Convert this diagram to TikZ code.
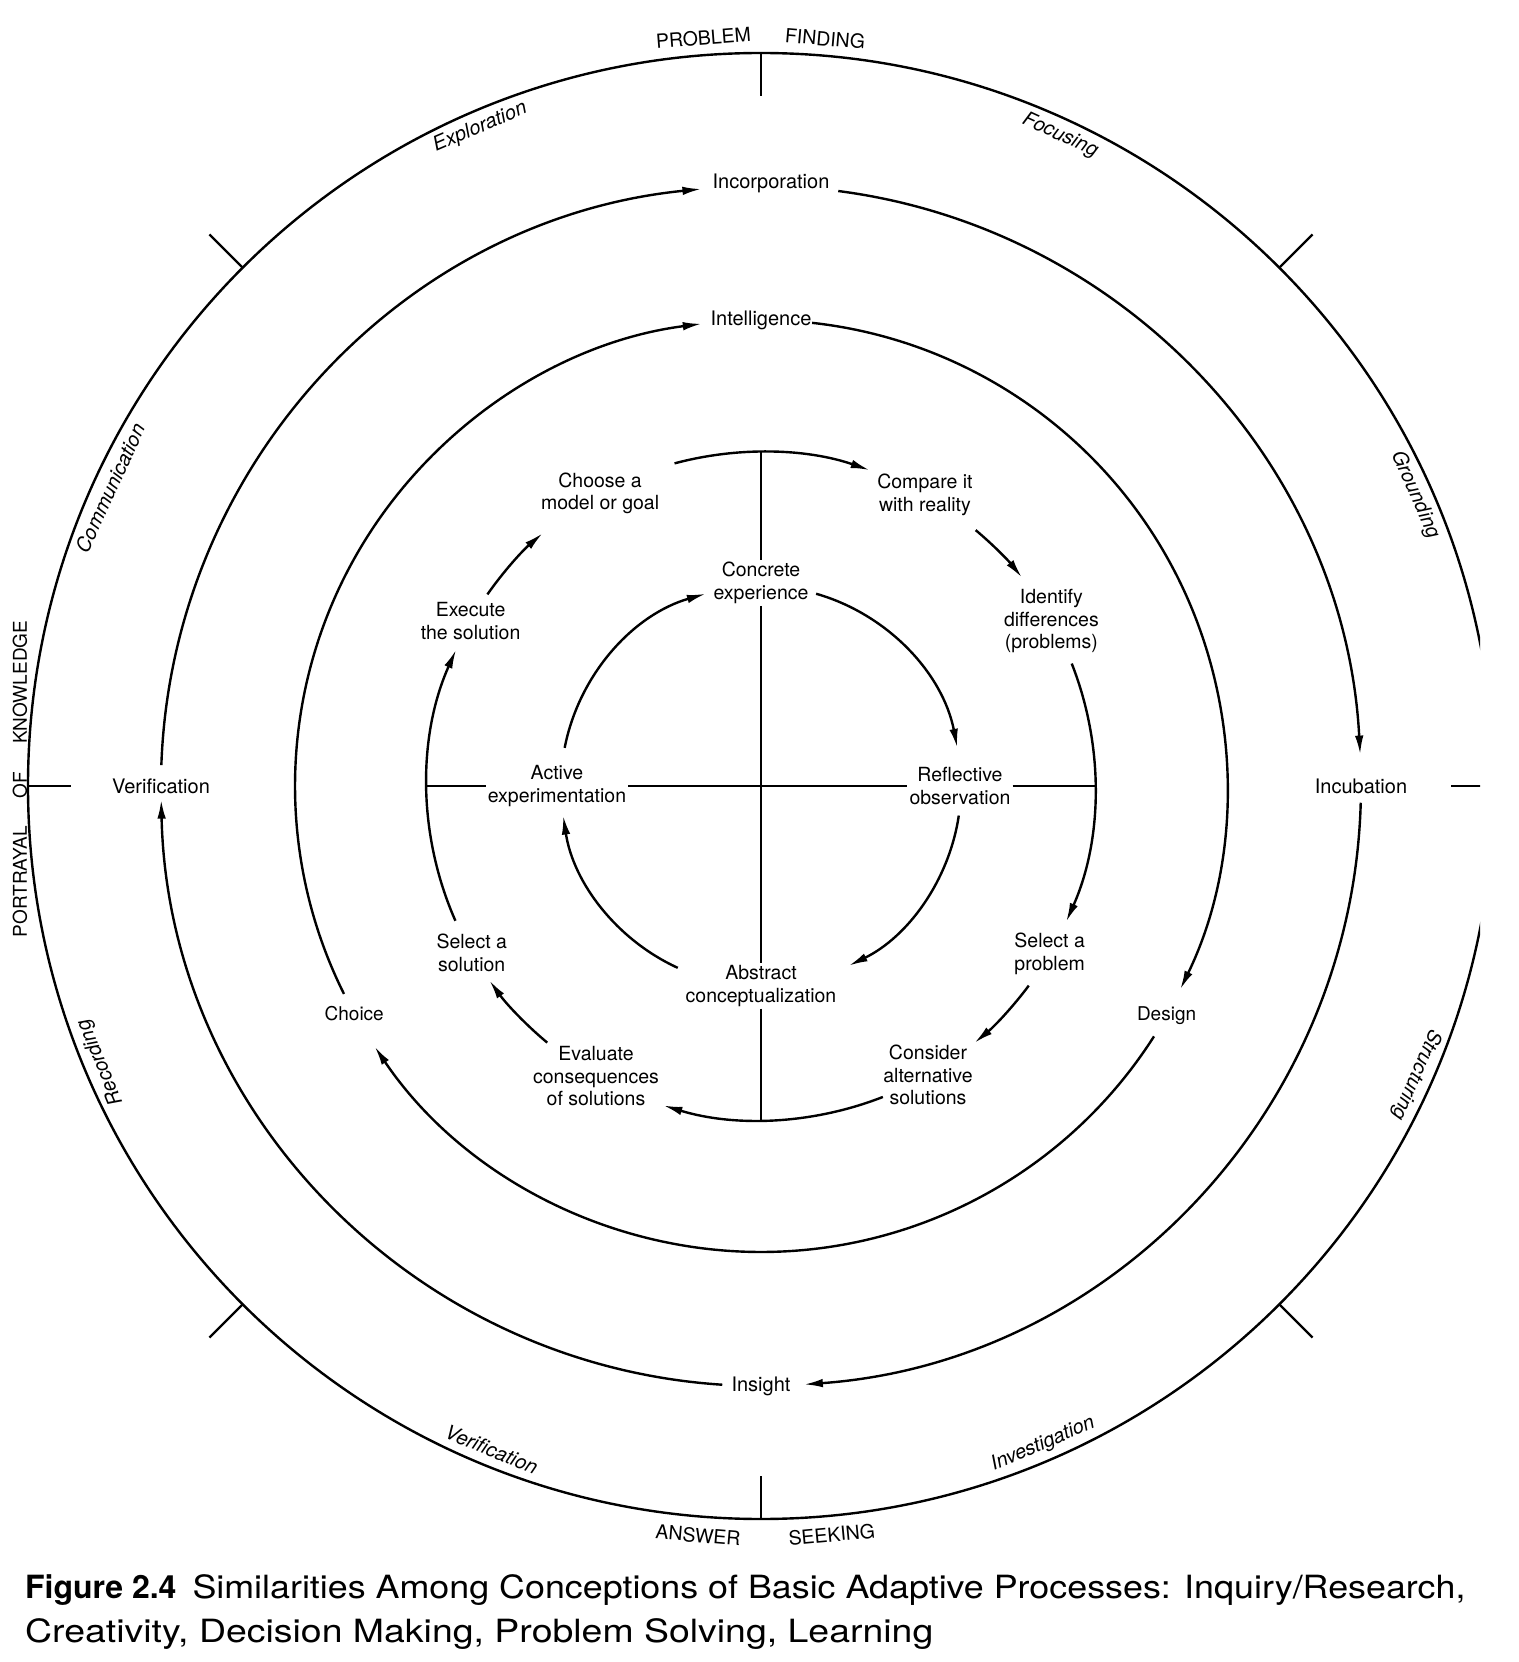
\documentclass[tikz,border=0pt]{standalone}
\usepackage{fontspec}
\setmainfont{TeX Gyre Heros}
\newfontfamily\capfonta[FakeStretch=1.12]{TeX Gyre Heros}
\newfontfamily\capfontb[FakeStretch=1.17]{TeX Gyre Heros}
\usetikzlibrary{arrows.meta}
\begin{document}
\begin{tikzpicture}[x=1pt,y=1pt,
  ring/.style={line width=2.4pt},
  arr/.style={ring,-{Latex[length=19pt,width=8.5pt]}},
  lab/.style={font=\fontsize{19.5}{22.5}\selectfont, align=center, inner sep=2pt},
  rlab/.style={font=\fontsize{20}{24}\selectfont, inner sep=1pt},
  olab/.style={font=\fontsize{20}{24}\selectfont\itshape, inner sep=1pt},
  capslab/.style={font=\fontsize{19.5}{24}\selectfont, inner sep=1pt},
  captext/.style={font=\fontsize{32}{40}\selectfont, anchor=base west, inner sep=0pt},
]
\useasboundingbox (-761,-876) rectangle (757,786);

% ---------- outer ring ----------
\begin{scope}
  \clip (-761,-876) rectangle (719,786);
  \draw[ring] (0,0) circle[radius=733pt];
  \foreach \a in {0,90,180,270} \draw[ring] (\a:733pt) -- (\a:690pt);
\end{scope}
\foreach \a in {45,135,225,315} \draw[ring] (\a:733pt) -- (\a:780pt);

\node[capslab, rotate=4.4]  (prob) at (94.4:750pt) {PROBLEM};
\node[capslab, rotate=-4.9] (find) at (85.1:750pt) {FINDING};
\node[capslab, rotate=-4.8] (answ) at (-94.8:752pt) {ANSWER};
\node[capslab, rotate=5.4]  (seek) at (-84.6:752pt) {SEEKING};
\node[capslab, font=\fontsize{19}{24}\selectfont, rotate=90] (portr) at (-741,7)
  {PORTRAYAL\hspace{28pt}OF\hspace{28pt}KNOWLEDGE};

\node[olab, rotate=23.1]   (explo)  at (113.1:716pt) {Exploration};
\node[olab, rotate=-24.7]  (focus)  at (65.3:716pt)  {Focusing};
\node[olab, rotate=65.4]   (comm)   at (155.4:716pt) {Communication};
\node[olab, rotate=-66]    (ground) at (24:716pt)    {Grounding};
\node[olab, rotate=112.7]  (record) at (202.7:716pt) {Recording};
\node[olab, rotate=-113.8] (struct) at (-23.8:716pt) {Structuring};
\node[olab, rotate=-22.1]  (verifo) at (-112.1:716pt){Verification};
\node[olab, rotate=23.2]   (invest) at (-66.8:716pt) {Investigation};

% ---------- ring 2 ----------
\node[rlab] (incorp)  at (10,603)  {Incorporation};
\node[rlab] (incub)   at (0:600pt)   {Incubation};
\node[rlab] (insight) at (270:600pt) {Insight};
\node[rlab] (verif)   at (180:600pt) {Verification};
\draw[arr] (178:600pt)   arc[start angle=178,   end angle=95.7,  radius=600pt];
\draw[arr] (82.6:600pt)  arc[start angle=82.6,  end angle=3.0,   radius=600pt];
\draw[arr] (-1.6:600pt)  arc[start angle=-1.6,  end angle=-85.9, radius=600pt];
\draw[arr] (266.3:600pt) arc[start angle=266.3, end angle=181.3, radius=600pt];

% ---------- ring 3 ----------
\node[rlab] (intell) at (90:466pt)    {Intelligence};
\node[rlab, font=\fontsize{19}{24}\selectfont] (design) at (-29.5:466pt) {Design};
\node[rlab, font=\fontsize{19}{24}\selectfont] (choice) at (209.2:466pt) {Choice};
\draw[arr] (206.5:466pt) arc[start angle=206.5, end angle=97.3,  radius=466pt];
\draw[arr] (83.7:466pt)  arc[start angle=83.7,  end angle=-25.9, radius=466pt];
\draw[arr] (-32.5:466pt) arc[start angle=-32.5, end angle=-146,  radius=466pt];

% ---------- ring 4 ----------
\node[lab] (choose)   at (118.8:334pt) {Choose a\\model or goal};
\node[lab] (compare)  at (60.6:334pt)  {Compare it\\with reality};
\node[lab] (identify) at (29.6:334pt)  {Identify\\differences\\(problems)};
\node[lab] (selprob)  at (-30.2:334pt) {Select a\\problem};
\node[lab] (consider) at (-60:334pt)   {Consider\\alternative\\solutions};
\node[lab] (evaluate) at (-119.6:334pt){Evaluate\\consequences\\of solutions};
\node[lab] (selsol)   at (210:334pt)   {Select a\\solution};
\node[lab] (execute)  at (150.4:334pt) {Execute\\the solution};
\draw[arr] (105:334pt)    arc[start angle=105,    end angle=71,     radius=334pt];
\draw[arr] (50:334pt)     arc[start angle=50,     end angle=38.6,   radius=334pt];
\draw[arr] (21.5:334pt)   arc[start angle=21.5,   end angle=-24,    radius=334pt];
\draw[arr] (-36.7:334pt)  arc[start angle=-36.7,  end angle=-50.3,  radius=334pt];
\draw[arr] (-68.6:334pt)  arc[start angle=-68.6,  end angle=-107,   radius=334pt];
\draw[arr] (230.2:334pt)  arc[start angle=230.2,  end angle=215.6,  radius=334pt];
\draw[arr] (203.8:334pt)  arc[start angle=203.8,  end angle=155.9,  radius=334pt];
\draw[arr] (145:334pt)    arc[start angle=145,    end angle=130.8,  radius=334pt];

% ---------- inner ring ----------
\node[lab] (concrete)   at (0,203)  {Concrete\\experience};
\node[lab] (reflective) at (199,0)  {Reflective\\observation};
\node[lab] (abstract)   at (0,-200) {Abstract\\conceptualization};
\node[lab] (active)     at (-204,0) {Active\\experimentation};
\draw[arr] (74:200pt)    arc[start angle=74,    end angle=11,    radius=200pt];
\draw[arr] (-8.5:200pt)  arc[start angle=-8.5,  end angle=-64,   radius=200pt];
\draw[arr] (245.4:200pt) arc[start angle=245.4, end angle=188.5, radius=200pt];
\draw[arr] (169:200pt)   arc[start angle=169,   end angle=106,   radius=200pt];

% ---------- cross ----------
\coordinate (r4t) at (90:334pt);
\coordinate (r4b) at (270:334pt);
\coordinate (r4l) at (180:334pt);
\coordinate (r4r) at (0:334pt);
\draw[ring] (r4t) -- (concrete.north);
\draw[ring] (concrete.south) -- (abstract.north);
\draw[ring] (abstract.south) -- (r4b);
\draw[ring] (r4l) -- (active.west);
\draw[ring] (active.east) -- (reflective.west);
\draw[ring] (reflective.east) -- (r4r);

% ---------- caption ----------
\node[captext] (cap1) at (-736,-812) {\bfseries Figure 2.4\hspace{16pt}\capfonta\mdseries Similarities Among Conceptions of Basic Adaptive Processes: Inquiry/Research,};
\node[captext] (cap2) at (-736,-856) {\capfontb Creativity, Decision Making, Problem Solving, Learning};
\end{tikzpicture}
\end{document}
